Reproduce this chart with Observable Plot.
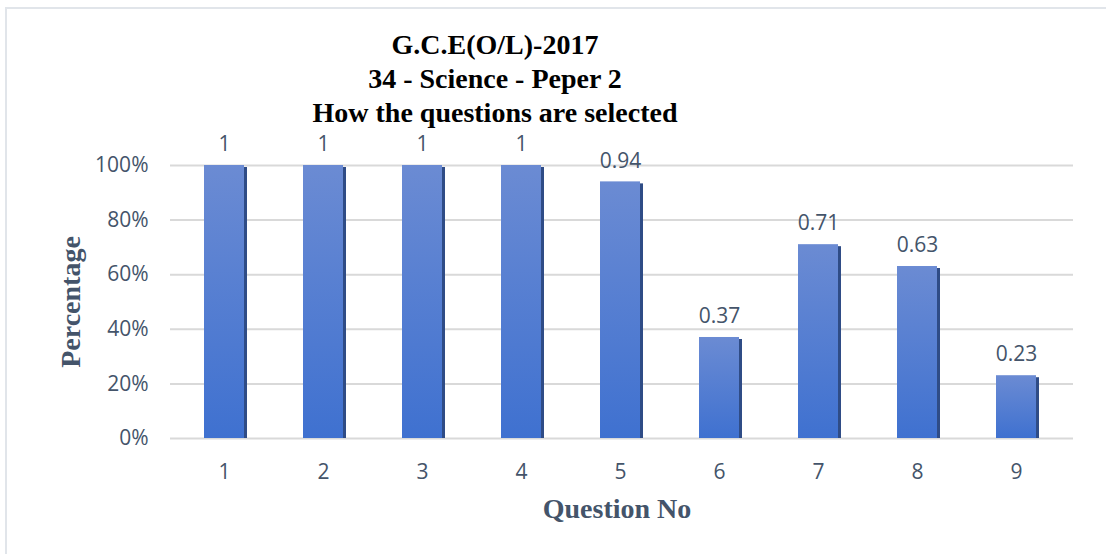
<!DOCTYPE html>
<html>
<head>
<meta charset="utf-8">
<script src="https://cdn.jsdelivr.net/npm/d3@7"></script>
<script src="https://cdn.jsdelivr.net/npm/@observablehq/plot@0.6"></script>
<style>
  html, body { margin: 0; padding: 0; background: #fff; }
  #wrap { position: relative; width: 1106px; height: 554px; overflow: hidden; }
  #frame { position: absolute; left: 5px; top: 7px; width: 1110px; height: 560px;
           border: 2px solid #e1e5ea; box-sizing: border-box; }
  #title { position: absolute; left: 195px; width: 600px; top: 28px; text-align: center;
           font-family: "Liberation Serif", "Times New Roman", serif; font-weight: bold;
           font-size: 28px; line-height: 34px; color: #000; }
  #chart { position: absolute; left: 0; top: 0; }
</style>
</head>
<body>
<div id="wrap">
  <div id="frame"></div>
  <div id="chart"></div>
  <div id="title">G.C.E(O/L)-2017<br>34 - Science - Peper 2<br>How the questions are selected</div>
</div>
<script>
// Share of candidates selecting each question
const questions = [1, 2, 3, 4, 5, 6, 7, 8, 9];
const shares = [1, 1, 1, 1, 0.94, 0.37, 0.71, 0.63, 0.23];
const yTicks = [0, 0.2, 0.4, 0.6, 0.8, 1];

const rows = questions.map((q, i) => ({question: q, share: shares[i]}));

const slate = "#44546a";
const sans = "'Open Sans', 'Noto Sans', sans-serif";
const serif = "'Liberation Serif', 'Times New Roman', serif";

const chart = Plot.plot({
  width: 1106,
  height: 554,
  marginLeft: 170,
  marginRight: 33,
  marginTop: 165,
  marginBottom: 116,
  style: {fontFamily: sans, background: "transparent"},
  x: {domain: questions, range: [168, 1071], paddingInner: 0.6, paddingOuter: 0.36, label: null},
  y: {domain: [0, 1], label: null},
  marks: [
    Plot.ruleY(yTicks, {stroke: "#d9d9d9", strokeWidth: 2}),
    Plot.axisY(yTicks, {
      tickFormat: d3.format(".0%"), tickSize: 0, tickPadding: 22,
      fontSize: 21, fill: slate, label: null
    }),
    Plot.axisX({
      tickSize: 0, tickPadding: 26, fontSize: 21, fill: slate, label: null
    }),
    // dark side face of each column
    Plot.barY(rows, {x: "question", y: "share", fill: "#2f4c86", dx: 3, insetTop: 2}),
    // front face with vertical gradient
    Plot.barY(rows, {x: "question", y: "share", fill: "url(#barGrad)"}),
    Plot.text(rows, {
      x: "question", y: "share", text: d => String(d.share),
      dy: -21, fontSize: 21, fill: slate
    }),
    Plot.text(["Percentage"], {
      frameAnchor: "left", dx: -99, rotate: -90, textAnchor: "middle",
      fontFamily: serif, fontWeight: "bold", fontSize: 28, fill: slate
    }),
    Plot.text(["Question No"], {
      frameAnchor: "bottom", dx: -5, dy: 79,
      fontFamily: serif, fontWeight: "bold", fontSize: 28, fill: slate
    })
  ]
});

// gradient definition for the bar fronts
const svg = d3.select(chart);
const grad = svg.insert("defs", ":first-child")
  .append("linearGradient")
  .attr("id", "barGrad")
  .attr("x1", 0).attr("y1", 0).attr("x2", 0).attr("y2", 1);
grad.append("stop").attr("offset", "0%").attr("stop-color", "#6b8bd3");
grad.append("stop").attr("offset", "100%").attr("stop-color", "#3f71d0");

document.getElementById("chart").appendChild(chart);
</script>
</body>
</html>
